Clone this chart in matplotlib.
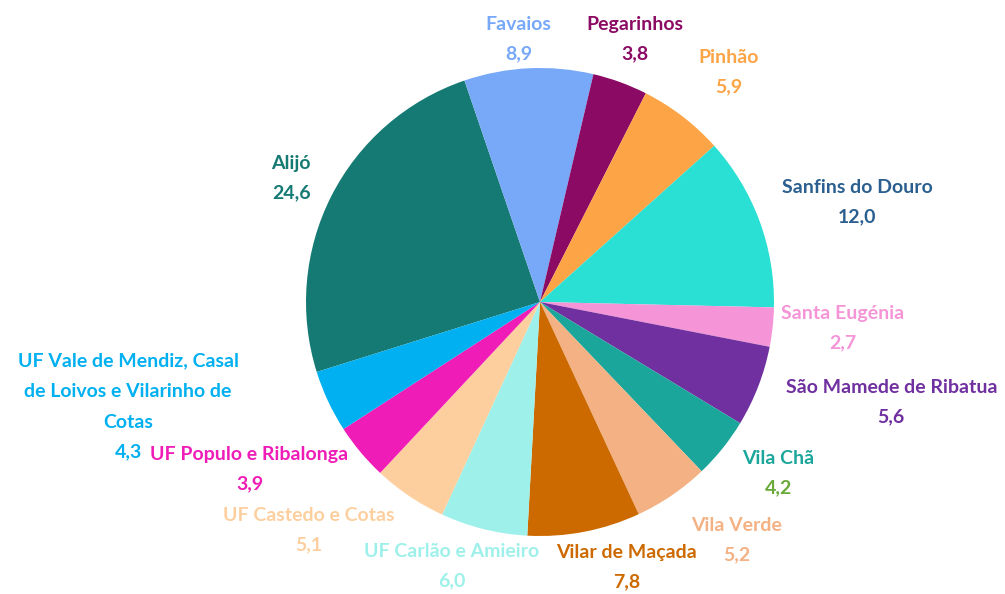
import numpy as np
import matplotlib
matplotlib.use('Agg')
import matplotlib.pyplot as plt

plt.rcParams['font.family'] = ['Lato', 'DejaVu Sans']

# freguesias e valores (%)
names = ['Alijó', 'Favaios', 'Pegarinhos', 'Pinhão', 'Sanfins do Douro',
         'Santa Eugénia', 'São Mamede de Ribatua', 'Vila Chã', 'Vila Verde',
         'Vilar de Maçada', 'UF Carlão e Amieiro', 'UF Castedo e Cotas',
         'UF Populo e Ribalonga',
         'UF Vale de Mendiz, Casal\nde Loivos e Vilarinho de\nCotas']
values = [24.6, 8.9, 3.8, 5.9, 12.0, 2.7, 5.6, 4.2, 5.2, 7.8, 6.0, 5.1, 3.9, 4.3]

colors = ['#147a73', '#78a8f8', '#8b0a63', '#fca446', '#2adfd3', '#f595d8',
          '#7030a0', '#1aa69a', '#f4b183', '#cc6a00', '#9ef0ea', '#fdcf9e',
          '#ef1cb7', '#00b0f0']
name_colors = list(colors)
name_colors[4] = '#2a5f8f'
value_colors = list(name_colors)
value_colors[7] = '#6aaa3a'

# deslocamento das etiquetas (pixels) a partir da borda da fatia
offsets = [(-40, 18), (-10, 29), (15, 43), (46, 44), (98, 19), (70, -1),
           (133, -16), (56, -25), (65, -45), (42, -35), (-32, -37),
           (-101, -34), (-111, -17), (-200, -36)]

W, H = 1005, 594
cx, cy, R = 540, 302, 234
fig = plt.figure(figsize=(W / 100, H / 100), dpi=100)
ax = fig.add_axes([0, 0, 1, 1])

wedges, _ = ax.pie(values, colors=colors, startangle=197.4, counterclock=False,
                   radius=1, wedgeprops=dict(linewidth=0))
ax.set_aspect('auto')
ax.set_xlim(-cx / R, (W - cx) / R)
ax.set_ylim(-(H - cy) / R, cy / R)
ax.axis('off')

gap = 6
for w, name, val, nc, vc, (dx, dy) in zip(wedges, names, values, name_colors,
                                           value_colors, offsets):
    ang = np.deg2rad((w.theta1 + w.theta2) / 2)
    xy = (np.cos(ang), np.sin(ang))
    ax.annotate(name, xy, xytext=(dx, dy + gap), textcoords='offset pixels',
                ha='center', va='bottom', color=nc, fontsize=14,
                fontweight='bold', linespacing=2.0)
    ax.annotate(f'{val:.1f}'.replace('.', ','), xy, xytext=(dx, dy - gap),
                textcoords='offset pixels', ha='center', va='top', color=vc,
                fontsize=14, fontweight='bold')

fig.savefig('out.png', dpi=100)
